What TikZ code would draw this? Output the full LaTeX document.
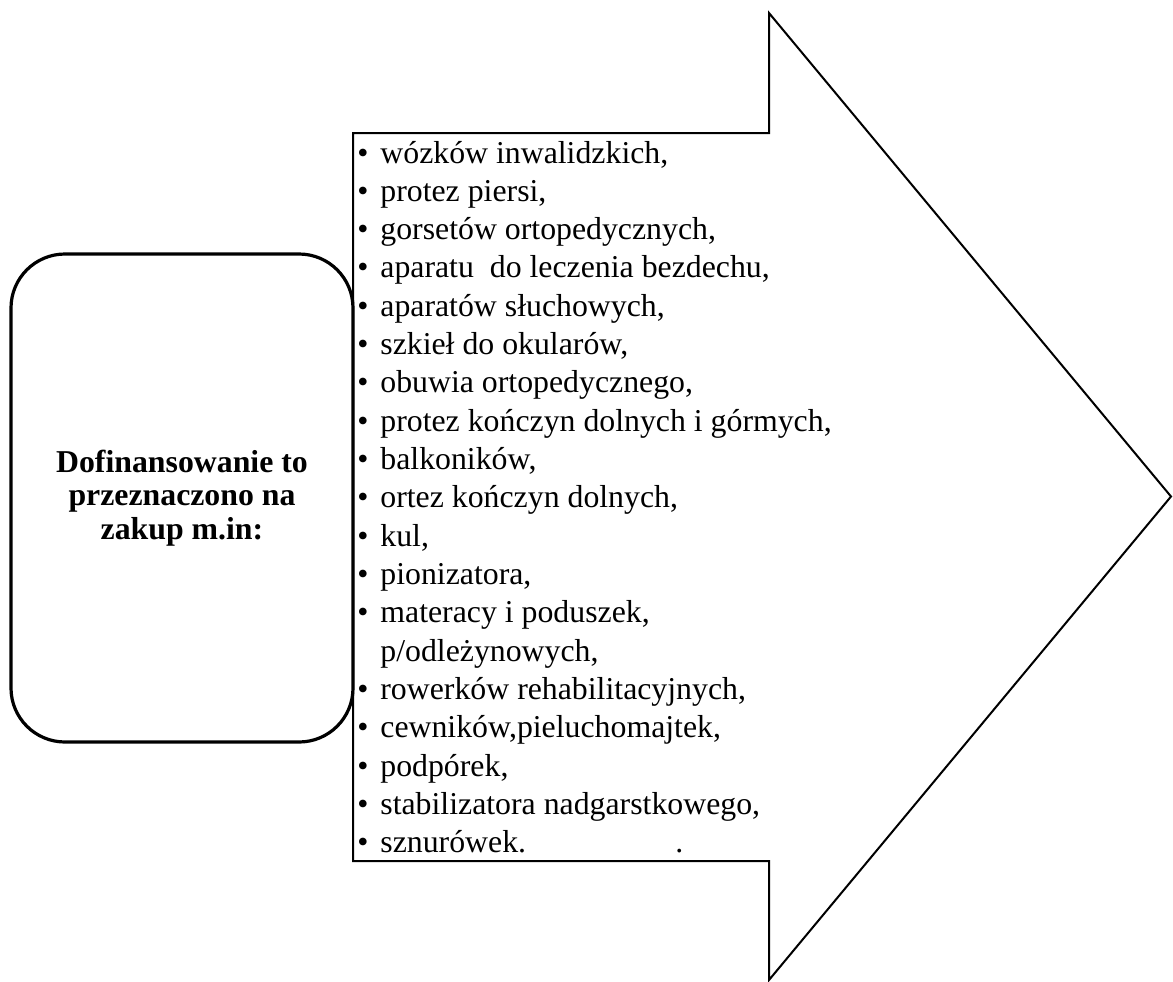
\documentclass[tikz,border=0pt]{standalone}
\usepackage{fontspec}
\setmainfont{Liberation Serif}
\newcommand\bul{\makebox[11.5pt][l]{\textbullet}}
\begin{document}
\begin{tikzpicture}[x=0.5pt,y=-0.5pt,
  arrowshape/.style={draw, line width=1pt, line join=miter},
  leadbox/.style={draw, line width=1.6pt, rounded corners=27pt, minimum width=171pt, minimum height=244pt, align=center, font=\bfseries\fontsize{15.9}{16.8}\selectfont, inner sep=0pt},
  item/.style={anchor=base west, inner sep=0pt, font=\fontsize{15.9}{19}\selectfont}]
\useasboundingbox (0,0) rectangle (1173,981);
\draw[arrowshape] (353,133) -- (769,133) -- (769,13) -- (1171,496.5) -- (769,980) -- (769,861) -- (353,861) -- cycle;
\node[leadbox] (lead) at (182,498) {Dofinansowanie to\\przeznaczono na\\zakup m.in:};
\foreach \t [count=\i] in {
  {\bul wózków inwalidzkich,},
  {\bul protez piersi,},
  {\bul gorsetów ortopedycznych,},
  {\bul aparatu~ do leczenia bezdechu,},
  {\bul aparatów słuchowych,},
  {\bul szkieł do okularów,},
  {\bul obuwia ortopedycznego,},
  {\bul protez kończyn dolnych i górmych,},
  {\bul balkoników,},
  {\bul ortez kończyn dolnych,},
  {\bul kul,},
  {\bul pionizatora,},
  {\bul materacy i poduszek,},
  {\hspace*{11.5pt}p/odleżynowych,},
  {\bul rowerków rehabilitacyjnych,},
  {\bul cewników,pieluchomajtek,},
  {\bul podpórek,},
  {\bul stabilizatora nadgarstkowego,},
  {\bul\makebox[147.5pt][l]{sznurówek.}.}}
  \node[item] (it\i) at (357,{163+(\i-1)*38.33}) {\t};
\end{tikzpicture}
\end{document}
